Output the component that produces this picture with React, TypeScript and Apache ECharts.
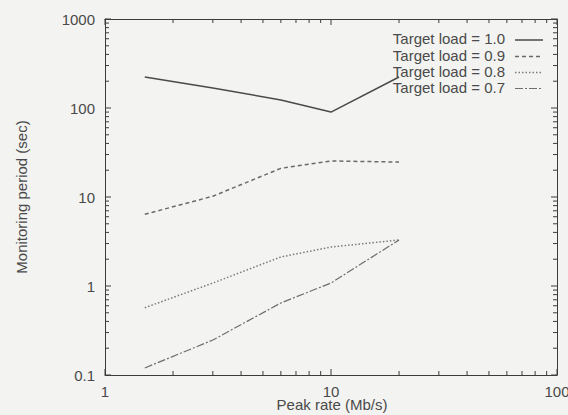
import React, { useEffect, useRef } from "react";
import * as echarts from "echarts";

const peakRates = [1.5, 3, 6, 10, 20];
const load10 = [223, 168, 123, 90, 223];
const load09 = [6.4, 10.2, 21, 25.4, 24.7];
const load08 = [0.57, 1.08, 2.12, 2.74, 3.29];
const load07 = [0.12, 0.247, 0.645, 1.08, 3.29];
const seriesNames = ["Target load = 1.0", "Target load = 0.9", "Target load = 0.8", "Target load = 0.7"];
const xTitle = "Peak rate (Mb/s)";
const yTitle = "Monitoring period (sec)";

const xDecades = [1, 10];
const yDecades = [0.1, 1, 10, 100];
const xMajor = [1, 10, 100];
const yMajor = [0.1, 1, 10, 100, 1000];

const FONT = "'Liberation Sans', Arial, sans-serif";
const AXIS = "#3c3c3c";
const TEXT = "#4a4a4a";

const lineColors = ["#4a4a4a", "#6a6a6a", "#7a7a7a", "#6e6e6e"];
const lineDashes: any[] = ["solid", [4, 3], [1.5, 2], [8, 2, 2, 2]];
const lineWidths = [1.5, 1.5, 1.5, 1.2];

export default function App() {
  const ref = useRef<HTMLDivElement>(null);
  useEffect(() => {
    if (!ref.current) return;
    const chart = echarts.init(ref.current, null, { renderer: "svg" });
    const pair = (ys: number[]) => peakRates.map((x, i) => [x, ys[i]]);

    const axisCommon = {
      type: "log" as const,
      logBase: 10,
      axisLine: { show: true, lineStyle: { color: AXIS, width: 1 } },
      axisTick: { show: false },
      splitLine: { show: false },
      minorTick: { show: false },
    };

    const allData = [load10, load09, load08, load07];

    chart.setOption({
      animation: false,
      backgroundColor: "#f3f3f1",
      textStyle: { fontFamily: FONT },
      grid: { left: 105, right: 11, top: 19, bottom: 40, containLabel: false, outerBoundsMode: "none" },
      xAxis: [
        {
          ...axisCommon,
          min: 1,
          max: 100,
          position: "bottom",
          axisLabel: { fontFamily: FONT, fontSize: 15, color: TEXT, margin: 9, formatter: (v: number) => String(v) },
        },
        {
          ...axisCommon,
          min: 1,
          max: 100,
          position: "top",
          axisLabel: { show: false },
        },
      ],
      yAxis: [
        {
          ...axisCommon,
          min: 0.1,
          max: 1000,
          position: "left",
          name: yTitle,
          nameLocation: "middle",
          nameGap: 76,
          nameRotate: 90,
          nameTextStyle: { fontFamily: FONT, fontSize: 15, color: TEXT },
          axisLabel: { fontFamily: FONT, fontSize: 15, color: TEXT, margin: 10, formatter: (v: number) => String(v) },
        },
        {
          ...axisCommon,
          min: 0.1,
          max: 1000,
          position: "right",
          axisLabel: { show: false },
        },
      ],
      series: allData.map((d, i) => ({
        name: seriesNames[i],
        type: "line",
        data: pair(d),
        showSymbol: false,
        symbol: "none",
        lineStyle: { color: lineColors[i], width: lineWidths[i], type: lineDashes[i] },
        itemStyle: { color: lineColors[i] },
      })),
    });

    // Frame ticks placed through the chart's own scales
    const toPx = (p: number[]) => chart.convertToPixel({ gridIndex: 0 }, p) as number[];
    const graphics: any[] = [];
    const mkLine = (x1: number, y1: number, x2: number, y2: number) => ({
      type: "line",
      silent: true,
      shape: { x1, y1, x2, y2 },
      style: { stroke: AXIS, lineWidth: 1 },
    });
    const addX = (v: number, len: number) => {
      const b = toPx([v, 0.1]);
      const t = toPx([v, 1000]);
      graphics.push(mkLine(b[0], b[1], b[0], b[1] - len));
      graphics.push(mkLine(t[0], t[1], t[0], t[1] + len));
    };
    const addY = (v: number, len: number) => {
      const l = toPx([1, v]);
      const r = toPx([100, v]);
      graphics.push(mkLine(l[0], l[1], l[0] + len, l[1]));
      graphics.push(mkLine(r[0], r[1], r[0] - len, r[1]));
    };
    xDecades.forEach((d) => { for (let k = 2; k <= 9; k++) addX(d * k, 4); });
    yDecades.forEach((d) => { for (let k = 2; k <= 9; k++) addY(d * k, 4); });
    xMajor.forEach((v) => addX(v, 6));
    yMajor.forEach((v) => addY(v, 6));

    // x-axis title
    const mid = toPx([10, 0.1]);
    graphics.push({
      type: "text",
      x: mid[0] + 1,
      y: 404,
      style: {
        text: xTitle,
        fontFamily: FONT,
        fontSize: 15,
        fill: TEXT,
        textAlign: "center",
        textVerticalAlign: "middle",
      },
    });

    const rowY = [40, 56.5, 72.5, 88.5];
    seriesNames.forEach((n, i) => {
      graphics.push({
        type: "text",
        right: 63,
        top: rowY[i] - 9,
        style: { text: n, fontFamily: FONT, fontSize: 15, fill: TEXT },
      });
      graphics.push({
        type: "line",
        shape: { x1: 515, y1: rowY[i], x2: 543, y2: rowY[i] },
        style: {
          stroke: lineColors[i],
          lineWidth: lineWidths[i],
          lineDash: lineDashes[i] === "solid" ? null : lineDashes[i],
        },
      });
    });

    chart.setOption({ graphic: graphics });
    return () => chart.dispose();
  }, []);
  return <div ref={ref} style={{ width: 568, height: 415, position: "absolute", left: 0, top: 0 }} />;
}
